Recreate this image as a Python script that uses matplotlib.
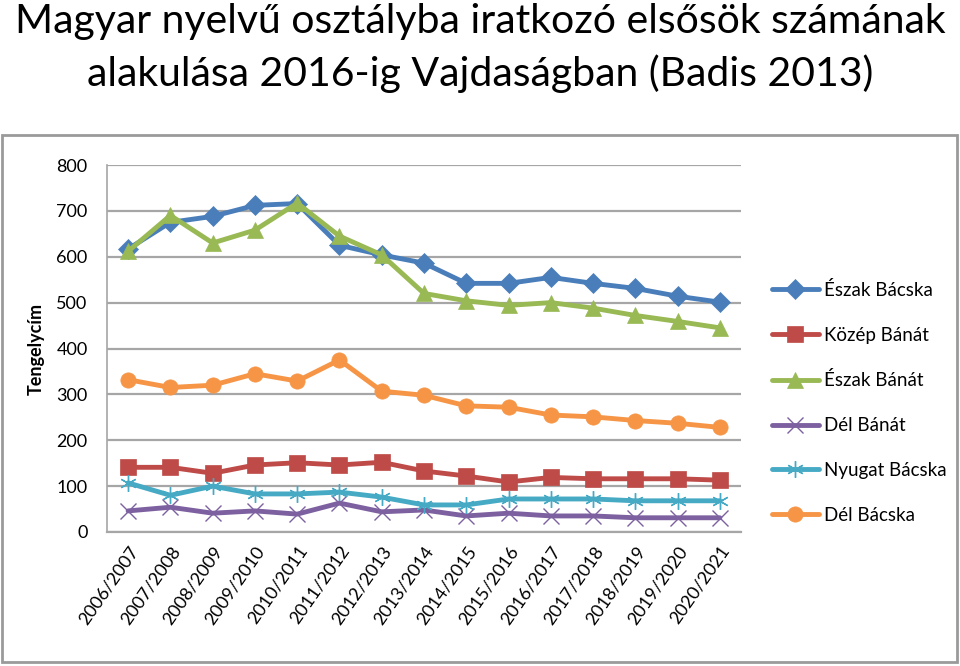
import matplotlib.pyplot as plt
from matplotlib.patches import Rectangle

seasons = ['2006/2007', '2007/2008', '2008/2009', '2009/2010', '2010/2011',
           '2011/2012', '2012/2013', '2013/2014', '2014/2015', '2015/2016',
           '2016/2017', '2017/2018', '2018/2019', '2019/2020', '2020/2021']

eszak_bacska = [617, 675, 688, 712, 716, 625, 604, 586, 542, 542, 555, 542, 531, 514, 501]
kozep_banat = [141, 141, 128, 146, 151, 146, 152, 133, 122, 109, 119, 116, 116, 116, 113]
eszak_banat = [612, 690, 630, 658, 717, 645, 604, 520, 504, 494, 500, 488, 472, 459, 445]
del_banat = [46, 54, 41, 46, 39, 63, 44, 48, 35, 41, 35, 35, 31, 31, 31]
nyugat_bacska = [107, 80, 100, 83, 83, 87, 76, 59, 59, 72, 72, 72, 68, 68, 68]
del_bacska = [332, 315, 320, 345, 329, 375, 307, 298, 275, 272, 255, 251, 243, 237, 228]

series = [
    ('Észak Bácska', eszak_bacska, '#4A7EBB', 'D', 10),
    ('Közép Bánát', kozep_banat, '#BE4B48', 's', 11),
    ('Észak Bánát', eszak_banat, '#98B954', '^', 12),
    ('Dél Bánát', del_banat, '#7D60A0', 'x', 11),
    ('Nyugat Bácska', nyugat_bacska, '#46AAC5', (6, 2, 0), 12),
    ('Dél Bácska', del_bacska, '#F69546', 'o', 11),
]

plt.rcParams['font.family'] = ['Lato', 'DejaVu Sans']

fig = plt.figure(figsize=(9.6, 6.66), dpi=100)

# outer chart frame
fig.patches.append(Rectangle((2 / 960, 4 / 666), 955 / 960, 527 / 666,
                             transform=fig.transFigure, fill=False,
                             edgecolor='#9a9a9a', linewidth=2))

fig.text(0.5, 0.995, 'Magyar nyelvű osztályba iratkozó elsősök számának',
         ha='center', va='top', fontsize=29.5)
fig.text(0.5, 0.918, 'alakulása 2016-ig Vajdaságban (Badis 2013)',
         ha='center', va='top', fontsize=29.5)

ax = fig.add_axes([107 / 960, 1 - 532 / 666, 634 / 960, 367 / 666])

x = list(range(len(seasons)))
for name, vals, color, marker, ms in series:
    thin = marker in ('x', (6, 2, 0))
    ax.plot(x, vals, color=color, linewidth=3.5, marker=marker,
            markersize=ms, markeredgewidth=1.0 if thin else 0.5,
            markeredgecolor=color, label=name, solid_capstyle='round')

ax.set_xlim(-0.5, len(seasons) - 0.5)
ax.set_ylim(0, 800)
ax.set_yticks(range(0, 801, 100))
ax.yaxis.grid(True, color='#a6a6a6', linewidth=1.6)
ax.set_axisbelow(True)
for side in ('top', 'right'):
    ax.spines[side].set_visible(False)
ax.spines['left'].set_color('#a6a6a6')
ax.spines['bottom'].set_color('#a6a6a6')
ax.spines['left'].set_linewidth(1.2)
ax.spines['bottom'].set_linewidth(1.6)
ax.tick_params(axis='y', length=0, labelsize=13, pad=14)
ax.tick_params(axis='x', length=0, labelsize=13, pad=8)

ax.set_xticks(x)
ax.set_xticklabels(seasons, rotation=55, ha='right', rotation_mode='anchor')
ax.set_ylabel('Tengelycím', fontsize=13, fontweight='bold', labelpad=8)

fig.legend(loc='upper left', bbox_to_anchor=(755 / 960, 1 - 264 / 666),
           frameon=False, fontsize=13.5, labelspacing=1.48, handlelength=2.5,
           handletextpad=0.3)

fig.savefig('out.png', dpi=100)
